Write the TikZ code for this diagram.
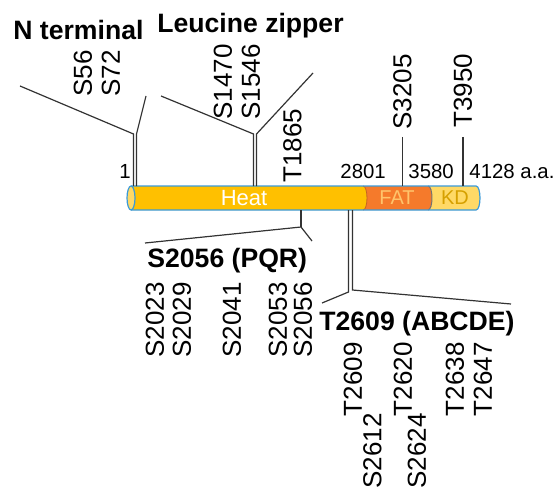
\documentclass[tikz,border=0pt]{standalone}
\usepackage{fontspec}
\setmainfont{Liberation Sans}
\usepackage{tikz}

\definecolor{heatcol}{HTML}{FFC000}
\definecolor{fatcol}{HTML}{F57A2B}
\definecolor{kdcol}{HTML}{FFD966}
\definecolor{barline}{HTML}{3A9AD9}
\definecolor{fattext}{HTML}{FFC46B}
\definecolor{kdtext}{HTML}{D6A000}

\begin{document}
\begin{tikzpicture}[x=0.5pt,y=-0.5pt]
	\tikzstyle{site}=[rotate=90,inner sep=0pt,font=\fontsize{13}{15}\selectfont]
	\tikzstyle{region}=[inner sep=0pt,font=\bfseries\fontsize{13.3}{15}\selectfont]
	\tikzstyle{resnum}=[inner sep=0pt,font=\fontsize{10.2}{12}\selectfont]
	\tikzstyle{link}=[draw=black!80,line width=0.6pt]
	\useasboundingbox (0,0) rectangle (555,486);
	% protein bar
	\coordinate (bartop) at (0,186);
	\coordinate (barbot) at (0,210);
	\fill[kdcol] (428,186) -- (476,186) .. controls (481.3,186) and (481.3,210) .. (476,210) -- (428,210) -- cycle;
	\fill[fatcol] (363,186) -- (428,186) .. controls (433.3,186) and (433.3,210) .. (428,210) -- (363,210) -- cycle;
	\fill[heatcol] (131,186) -- (363,186) .. controls (368.3,186) and (368.3,210) .. (363,210) -- (131,210) -- cycle;
	\draw[black!55,line width=0.5pt] (428,186) .. controls (433.3,186) and (433.3,210) .. (428,210);
	\draw[fatcol!80!black,line width=0.4pt] (363,186) .. controls (368.3,186) and (368.3,210) .. (363,210);
	\draw[barline,line width=0.6pt] (131,186) -- (476,186) .. controls (481.3,186) and (481.3,210) .. (476,210) -- (131,210);
	\draw[barline,fill=kdcol,line width=0.6pt] (131,198) ellipse [x radius=4,y radius=12];
	\node[inner sep=0pt,text=white,font=\fontsize{11}{12}\selectfont] (heat) at (244,198) {Heat};
	\node[inner sep=0pt,text=fattext,font=\fontsize{10}{11}\selectfont] (fat) at (397,198) {FAT};
	\node[inner sep=0pt,text=kdtext,font=\fontsize{10}{11}\selectfont] (kd) at (455,198) {KD};
	% residue numbers
	\node[resnum,anchor=base east] (p1) at (131,178) {1};
	\node[resnum,anchor=base west] (p2801) at (340,178) {2801};
	\node[resnum,anchor=base west] (p3580) at (408,178) {3580};
	\node[resnum,anchor=base west] (p4128) at (469,178) {4128 a.a.};
	% region titles
	\node[region,anchor=base west] (nterm) at (13,40) {N terminal};
	\node[region,anchor=base west] (lzip) at (157,33) {Leucine zipper};
	\node[region,anchor=base west] (pqr) at (147,267) {S2056 (PQR)};
	\node[region,anchor=base west] (abcde) at (319,330) {T2609 (ABCDE)};
	% sites above the bar
	\node[site,anchor=west] (s56) at (83,97) {S56};
	\node[site,anchor=west] (s72) at (111,97) {S72};
	\node[site,anchor=west] (s1470) at (223,120) {S1470};
	\node[site,anchor=west] (s1546) at (251,120) {S1546};
	\node[site,anchor=west] (t1865) at (292.5,183) {T1865};
	\node[site,anchor=west] (s3205) at (402.5,130) {S3205};
	\node[site,anchor=west] (t3950) at (463,128) {T3950};
	% sites below the bar
	\node[site,anchor=east] (s2023) at (155,282) {S2023};
	\node[site,anchor=east] (s2029) at (182,282) {S2029};
	\node[site,anchor=east] (s2041) at (232,282) {S2041};
	\node[site,anchor=east] (s2053) at (278,282) {S2053};
	\node[site,anchor=east] (s2056) at (303,282) {S2056};
	\node[site,anchor=east] (t2609) at (353,342) {T2609};
	\node[site,anchor=east] (t2620) at (403,342) {T2620};
	\node[site,anchor=east] (t2638) at (455,342) {T2638};
	\node[site,anchor=east] (t2647) at (483,342) {T2647};
	\node[site,anchor=east] (s2612) at (372.5,413) {S2612};
	\node[site,anchor=east] (s2624) at (417,413) {S2624};
	% brackets
	\coordinate (nt1) at (133.5,134);
	\coordinate (nt2) at (136.5,134);
	\coordinate (ntl) at (20,86);
	\coordinate (ntr) at (146,96);
	\draw[link] (ntl) -- (nt1) -- (nt1 |- bartop);
	\draw[link] (ntr) -- (nt2) -- (nt2 |- bartop);
	\coordinate (lz1) at (253.5,134);
	\coordinate (lz2) at (256.5,134);
	\coordinate (lzl) at (161,96);
	\coordinate (lzr) at (313,73);
	\draw[link] (lzl) -- (lz1) -- (lz1 |- bartop);
	\draw[link] (lzr) -- (lz2) -- (lz2 |- bartop);
	\draw[link,shorten <=3.5pt] (s3205.west) -- (s3205.west |- bartop);
	\draw[link,shorten <=4.5pt] (t3950.west) -- (t3950.west |- bartop);
	\coordinate (pq) at (301,227);
	\coordinate (pql) at (145,243);
	\coordinate (pqr) at (312,241);
	\draw[link] (pql) -- (pq) -- (pqr);
	\draw[link] (pq) -- (pq |- barbot);
	\coordinate (ab1) at (348.5,292);
	\coordinate (ab2) at (352.5,290);
	\coordinate (abl) at (322,303);
	\coordinate (abr) at (511,304);
	\draw[link] (abl) -- (ab1) -- (ab1 |- barbot);
	\draw[link] (abr) -- (ab2) -- (ab2 |- barbot);
\end{tikzpicture}
\end{document}
